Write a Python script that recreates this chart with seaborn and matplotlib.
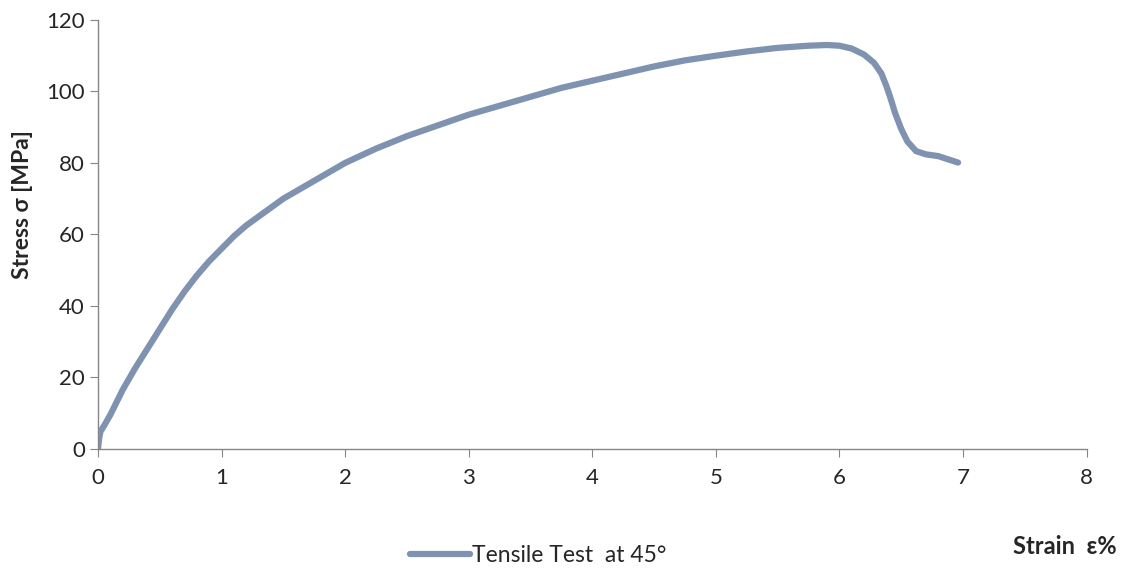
import pandas as pd
import matplotlib
matplotlib.use("Agg")
import matplotlib.pyplot as plt
import seaborn as sns

strain = [0, 0.01, 0.02, 0.05, 0.1, 0.15, 0.2, 0.3, 0.4, 0.5, 0.6, 0.7, 0.8,
          0.9, 1.0, 1.1, 1.2, 1.3, 1.4, 1.5, 1.6, 1.7, 1.8, 1.9, 2.0,
          2.25, 2.5, 2.75, 3.0, 3.25, 3.5, 3.75, 4.0, 4.25, 4.5, 4.75, 5.0,
          5.25, 5.5, 5.75, 5.9, 6.0, 6.1, 6.2, 6.28, 6.34, 6.38, 6.41, 6.45,
          6.5, 6.55, 6.62, 6.7, 6.8, 6.88, 6.96]
stress = [0, 3, 4.8, 6.5, 9.5, 13, 16.5, 22.5, 28, 33.5, 39, 44, 48.5,
          52.5, 56, 59.5, 62.5, 65, 67.5, 70, 72, 74, 76, 78, 80,
          84, 87.5, 90.5, 93.5, 96, 98.5, 101, 103, 105, 107, 108.7, 110,
          111.2, 112.2, 112.8, 113, 112.8, 112, 110.3, 108, 105, 101.5, 98.5, 94,
          89.5, 86, 83.3, 82.4, 81.9, 81, 80.1]
series_name = "Tensile Test  at 45°"

df = pd.DataFrame({"strain": strain, "stress": stress, "series": series_name})

sns.set_style("white")
plt.rcParams['font.family'] = ['Lato', 'DejaVu Sans']

fig = plt.figure(figsize=(11.26, 5.71), dpi=100)
ax = fig.add_axes([0.087, 0.214, 0.878, 0.751])

sns.lineplot(data=df, x="strain", y="stress", hue="series", sort=False,
             palette=["#7f93b0"], linewidth=4.5, ax=ax, legend=True,
             solid_capstyle='round', solid_joinstyle='round')

ax.set_xlim(0, 8)
ax.set_ylim(0, 120)
ax.set_xticks(range(0, 9))
ax.set_yticks(range(0, 121, 20))
ax.tick_params(axis='both', labelsize=16, color='#868686', length=6,
               direction='out', left=True, bottom=True)
ax.tick_params(axis='x', pad=8)
for s in ['top', 'right']:
    ax.spines[s].set_visible(False)
for s in ['left', 'bottom']:
    ax.spines[s].set_color('#868686')
    ax.spines[s].set_linewidth(1)

ax.set_xlabel("")
ax.set_ylabel("Stress σ [MPa]", fontsize=16.5, fontweight='bold')
ax.yaxis.set_label_coords(-0.066, 0.57)
fig.text(0.992, 0.022, "Strain  ε%", fontsize=17, fontweight='bold',
         ha='right', va='bottom')

leg = ax.legend(loc='center', bbox_to_anchor=(0.478, 0.027), bbox_transform=fig.transFigure,
                frameon=False, fontsize=16.5, handlelength=2.6, handletextpad=0.1)
for h in leg.get_lines():
    h.set_solid_capstyle('round')

fig.savefig("out.png", dpi=100)
